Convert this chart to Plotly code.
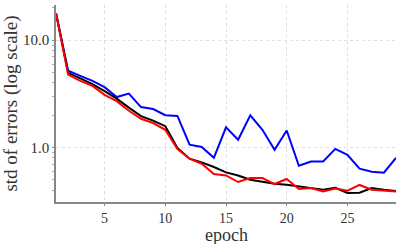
import plotly.graph_objects as go
import numpy as np

epochs = list(range(1, 30))
blue_vals = [17.9, 5.2, 4.65, 4.18, 3.65, 2.95, 3.18, 2.38, 2.28, 2.0,
             1.97, 1.06, 1.01, 0.80, 1.54, 1.18, 1.99, 1.46, 0.95, 1.44,
             0.675, 0.74, 0.74, 0.97, 0.855, 0.634, 0.594, 0.581, 0.80]
black_vals = [17.9, 4.96, 4.4, 3.9, 3.35, 2.85, 2.35, 1.96, 1.78, 1.58,
              0.99, 0.785, 0.725, 0.657, 0.585, 0.548, 0.50, 0.476, 0.459, 0.45,
              0.434, 0.415, 0.404, 0.421, 0.376, 0.378, 0.419, 0.404, 0.393]
red_vals = [17.9, 4.78, 4.17, 3.75, 3.09, 2.7, 2.2, 1.85, 1.69, 1.46,
            0.967, 0.785, 0.705, 0.565, 0.548, 0.476, 0.519, 0.519, 0.456, 0.508,
            0.41, 0.419, 0.389, 0.415, 0.395, 0.447, 0.404, 0.395, 0.389]
x_ticks = [5, 10, 15, 20, 25]
y_ticks = [1.0, 10.0]
y_minor = [0.4, 0.5, 0.6, 0.7, 0.8, 0.9, 2, 3, 4, 5, 6, 7, 8, 9, 20]

FONT = "Liberation Serif"

fig = go.Figure()
for vals, col in [(blue_vals, "#0000ff"), (black_vals, "#000000"), (red_vals, "#ff0000")]:
    fig.add_trace(go.Scatter(x=epochs, y=vals, mode="lines",
                             line=dict(color=col, width=2), showlegend=False))

fig.update_layout(
    width=401, height=244,
    margin=dict(l=56, r=5, t=5, b=42),
    paper_bgcolor="white", plot_bgcolor="white",
    font=dict(family=FONT, color="#333333"),
)
fig.update_xaxes(
    range=[1, 29], tickvals=x_ticks, ticktext=[str(v) for v in x_ticks],
    showgrid=True, gridcolor="#dedede", griddash="dot", gridwidth=1,
    showline=True, linecolor="#888888", linewidth=1.5,
    ticks="outside", ticklen=2, tickcolor="#888888",
    tickfont=dict(size=14, family=FONT, color="#333333"),
    zeroline=False, mirror=False, automargin=False,
)
fig.add_annotation(text="epoch", xref="paper", yref="paper", x=0.5, y=-0.165,
                   xanchor="center", yanchor="middle", showarrow=False,
                   font=dict(size=18, family=FONT, color="#333333"))
fig.update_yaxes(
    type="log", range=[np.log10(0.31), np.log10(21.3)],
    tickvals=y_ticks, ticktext=["1.0", "10.0"],
    showgrid=True, gridcolor="#dedede", griddash="dot", gridwidth=1,
    showline=True, linecolor="#888888", linewidth=1.5,
    ticks="outside", ticklen=2, tickcolor="#888888",
    minor=dict(tickvals=y_minor, ticks="outside", ticklen=2, tickcolor="#aaaaaa", showgrid=False),
    tickfont=dict(size=15, family=FONT, color="#333333"),
    title=dict(text="std of errors (log scale)", font=dict(size=19, family=FONT, color="#333333"), standoff=4),
    zeroline=False, automargin=False,
)

fig.write_html("out.html", config={"displayModeBar": False},
               post_script="document.body.style.margin='0';document.body.style.overflow='hidden';")
